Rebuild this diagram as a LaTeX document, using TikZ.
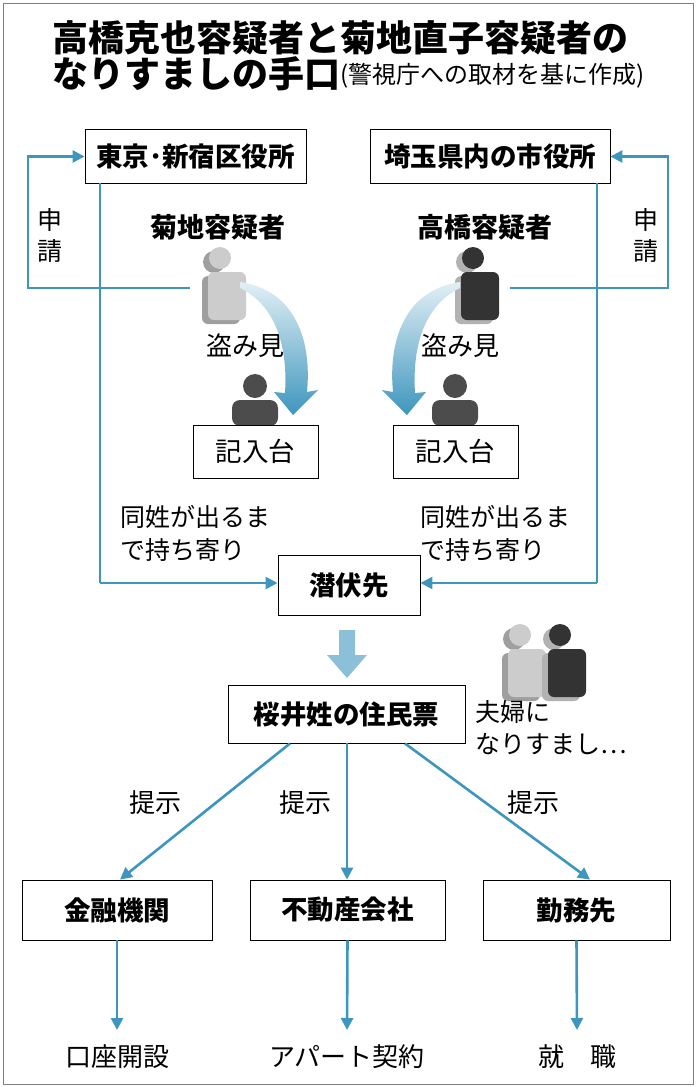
\documentclass[tikz,border=0pt]{standalone}
\usepackage{fontspec}
\setmainfont{Noto Sans CJK JP}
\usetikzlibrary{arrows.meta}
\definecolor{ab}{RGB}{62,150,190}
\begin{document}
\begin{tikzpicture}[x=1pt,y=-1pt,
 box/.style={draw,line width=0.9pt,minimum height=54pt,font=\fontsize{26.5}{26.5}\selectfont\bfseries,inner sep=0},
 lbl/.style={font=\fontsize{26}{30}\selectfont,inner sep=0},
 conn/.style={draw=ab,line width=2.6pt,-{Triangle[length=12pt,width=12pt]}},
 plain/.style={draw=ab,line width=2.6pt},
 pics/person/.style 2 args={code={
   \fill[#2] (-16,-26) circle (11);
   \fill[#2,rounded corners=6pt] (-28,-12) rectangle (10,36);
   \fill[#1] (-10,-30) circle (11);
   \fill[#1,rounded corners=6pt] (-22,-16) rectangle (16,32);
 }}]
\useasboundingbox (0,0) rectangle (696,1087);
\draw[gray,line width=1pt] (3,3) rectangle (693,1084);
% title
\node[anchor=west,inner sep=0,font=\fontsize{36}{36}\selectfont\bfseries] (t1) at (52,38) {高橋克也容疑者と菊地直子容疑者の};
\node[anchor=west,inner sep=0,font=\fontsize{36}{36}\selectfont\bfseries] (t2) at (52,74) {なりすましの手口};
\node[anchor=west,inner sep=0,font=\fontsize{24}{24}\selectfont] (t3) at (340,76) {(警視庁への取材を基に作成)};
% top boxes
\node[box,minimum width=221pt] (tk) at (195.5,156.5) {東京･新宿区役所};
\node[box,minimum width=240pt] (st) at (490,156.5) {埼玉県内の市役所};
\node[lbl,font=\fontsize{27}{27}\selectfont\bfseries] (kl) at (218,227) {菊地容疑者};
\node[lbl,font=\fontsize{27}{27}\selectfont\bfseries] (tl) at (485,227) {高橋容疑者};
\node[lbl,align=center,font=\fontsize{25}{31}\selectfont] (sl) at (50,235) {申\\請};
\node[lbl,align=center,font=\fontsize{25}{31}\selectfont] (sr) at (646,235) {申\\請};
% persons
\pic at (230,288) {person={gray!40}{gray!75}};
\pic at (483,288) {person={black!80}{gray!60}};
\coordinate (pk) at (190,288);
\coordinate (pt) at (510,288);
\coordinate (cl) at (28,288);
\coordinate (cr) at (668,288);
\draw[conn] (pk) -- (cl) |- (tk.west);
\draw[conn] (pt) -- (cr) |- (st.east);
\node[lbl] (m1) at (245,346) {盗み見};
\node[lbl] (m2) at (460,346) {盗み見};
% gradient arrows
\shade[top color=ab!15,bottom color=ab] (240,282) .. controls (295,290) and (312,340) .. (307,392) -- (318,390) -- (293,415) -- (274,392) -- (285,393) .. controls (288,345) and (275,305) .. (240,288) -- cycle;
\begin{scope}[xshift=700pt,xscale=-1]
\shade[top color=ab!15,bottom color=ab] (240,282) .. controls (295,290) and (312,340) .. (307,392) -- (318,390) -- (293,415) -- (274,392) -- (285,393) .. controls (288,345) and (275,305) .. (240,288) -- cycle;
\end{scope}
% seated persons
\foreach \cx in {255,455}{
  \fill[black!70] (\cx,386) circle (12);
  \fill[black!70,rounded corners=8pt] (\cx-23,426) -- (\cx-23,400) -- (\cx+23,400) -- (\cx+23,426) -- cycle;
}
\node[box,font=\fontsize{26.5}{26.5}\selectfont,minimum width=125pt,minimum height=53pt,fill=white] (k1) at (255.5,451.5) {記入台};
\node[box,font=\fontsize{26.5}{26.5}\selectfont,minimum width=125pt,minimum height=53pt,fill=white] (k2) at (455.5,451.5) {記入台};
% 潜伏先
\node[box,minimum width=142pt,minimum height=60pt] (sp) at (349,585) {潜伏先};
\coordinate (dl) at (100,583);
\coordinate (dr) at (597,583);
\draw[plain] (100,183) -- (dl);
\draw[conn] (dl) -- (sp.west|-dl);
\draw[plain] (597,183) -- (dr);
\draw[conn] (dr) -- (sp.east|-dr);
\node[lbl,align=left,anchor=north west,font=\fontsize{25}{33}\selectfont] (ml) at (120,505) {同姓が出るま\\で持ち寄り};
\node[lbl,align=left,anchor=north west,font=\fontsize{25}{33}\selectfont] (mr) at (420,505) {同姓が出るま\\で持ち寄り};
% 住民票
\node[box,minimum width=237pt,minimum height=58pt] (jm) at (346.5,714) {桜井姓の住民票};
\fill[ab!60] (339,630) -- (355,630) -- (355,655) -- (367,655) -- (347,678) -- (327,655) -- (339,655) -- cycle;
\pic at (530,665) {person={gray!40}{gray!75}};
\pic at (570,665) {person={black!80}{gray!60}};
\node[lbl,align=left,anchor=north west,font=\fontsize{25}{32}\selectfont] (fu) at (475,700) {夫婦に\\なりすまし⋯};
% bottom boxes
\node[box,minimum width=190pt,minimum height=60pt] (b1) at (117,910) {金融機関};
\node[box,minimum width=195pt,minimum height=60pt] (b2) at (347.5,910) {不動産会社};
\node[box,minimum width=187pt,minimum height=60pt] (b3) at (576.5,910) {勤務先};
\draw[conn] (jm.south-|290,0) -- (b1.north-|120,0);
\draw[conn] (jm.south-|347,0) -- (b2.north-|347,0);
\draw[conn] (jm.south-|405,0) -- (b3.north-|590,0);
\node[lbl] (p1) at (155,803) {提示};
\node[lbl] (p2) at (305,803) {提示};
\node[lbl] (p3) at (533,803) {提示};
\node[lbl] (e1) at (117,1057) {口座開設};
\node[lbl] (e2) at (347,1057) {アパート契約};
\node[lbl] (e3) at (577,1057) {就　職};
\draw[conn] (b1.south) -- (117,1030) coordinate (x1);
\draw[conn] (b2.south) -- (347,1030) coordinate (x2);
\draw[conn] (b3.south) -- (577,1030) coordinate (x3);
\end{tikzpicture}
\end{document}
